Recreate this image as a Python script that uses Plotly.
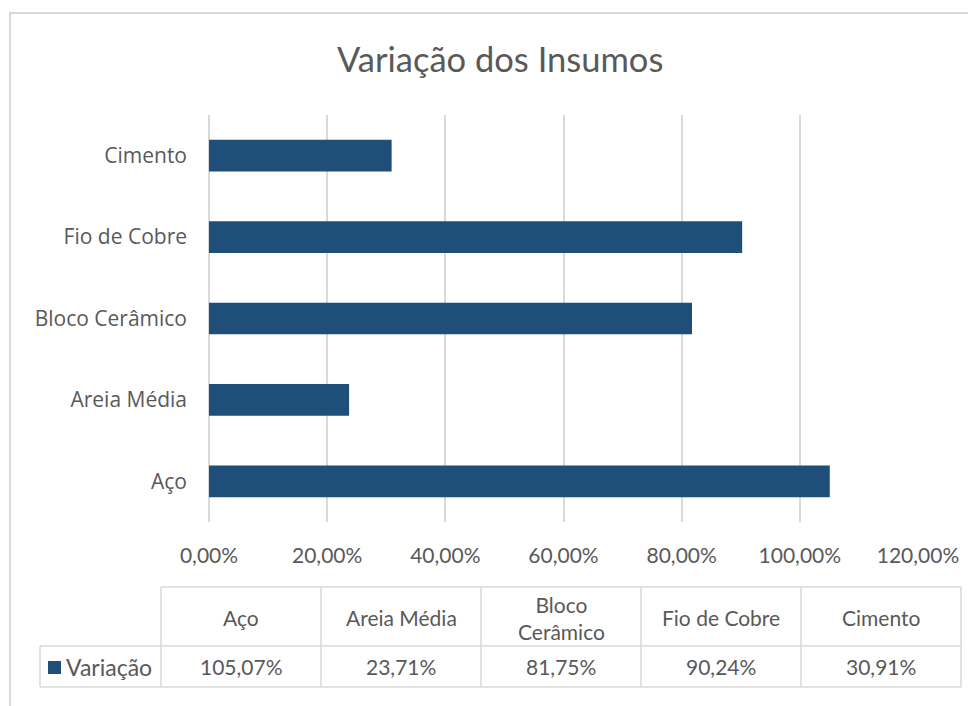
import plotly.graph_objects as go

# ---- data ----
categories = ["Aço", "Areia Média", "Bloco Cerâmico", "Fio de Cobre", "Cimento"]
variacao = [105.07, 23.71, 81.75, 90.24, 30.91]
tick_vals = [0, 20, 40, 60, 80, 100, 120]
tick_labels = ["0,00%", "20,00%", "40,00%", "60,00%", "80,00%", "100,00%", "120,00%"]
series_name = "Variação"
chart_title = "Variação dos Insumos"

# ---- styling ----
OFF = 8            # page body margin in the browser
W, H = 976 - OFF, 706 - OFF
BAR = "#1F4E79"
GRID = "#d9d9d9"
TXT = "#595959"
FONT = "Lato"
YFONT = "Open Sans"


def px(x):
    return (x - OFF) / W


def py(y):
    return 1 - (y - OFF) / H


fig = go.Figure(
    go.Bar(
        y=categories,
        x=variacao,
        orientation="h",
        marker=dict(color=BAR, line=dict(width=0)),
        width=0.39,
        name=series_name,
        showlegend=False,
    )
)

shapes = []
annotations = []

# outer chart border (left & top visible)
shapes.append(dict(type="line", xref="paper", yref="paper", x0=px(10), x1=px(10), y0=py(13), y1=py(706),
                   line=dict(color=GRID, width=2)))
shapes.append(dict(type="line", xref="paper", yref="paper", x0=px(9), x1=px(976), y0=py(13), y1=py(13),
                   line=dict(color=GRID, width=2)))

# data table geometry
col_edges = [161, 321, 481, 641, 801, 961]
y_top, y_mid, y_bot = 587, 646, 687
x_leg = 40
lw = 1.5
shapes.append(dict(type="line", xref="paper", yref="paper", x0=px(col_edges[0]), x1=px(col_edges[-1]),
                   y0=py(y_top), y1=py(y_top), line=dict(color=GRID, width=lw)))
shapes.append(dict(type="line", xref="paper", yref="paper", x0=px(x_leg), x1=px(col_edges[-1]),
                   y0=py(y_mid), y1=py(y_mid), line=dict(color=GRID, width=lw)))
shapes.append(dict(type="line", xref="paper", yref="paper", x0=px(x_leg), x1=px(col_edges[-1]),
                   y0=py(y_bot), y1=py(y_bot), line=dict(color=GRID, width=lw)))
for xe in col_edges:
    shapes.append(dict(type="line", xref="paper", yref="paper", x0=px(xe), x1=px(xe),
                       y0=py(y_top), y1=py(y_bot), line=dict(color=GRID, width=lw)))
shapes.append(dict(type="line", xref="paper", yref="paper", x0=px(x_leg), x1=px(x_leg),
                   y0=py(y_mid), y1=py(y_bot), line=dict(color=GRID, width=lw)))

# legend key
shapes.append(dict(type="rect", xref="paper", yref="paper", x0=px(48), x1=px(61), y0=py(674), y1=py(661),
                   fillcolor=BAR, line=dict(width=0)))
annotations.append(dict(text=series_name, xref="paper", yref="paper", x=px(64), y=py(667),
                        xanchor="left", yanchor="middle", showarrow=False,
                        font=dict(family=FONT, size=23, color=TXT)))

# table header and values
for i, (c, v) in enumerate(zip(categories, variacao)):
    cx = (col_edges[i] + col_edges[i + 1]) / 2
    head = c.replace(" ", "<br>", 1) if len(c) > 12 else c
    annotations.append(dict(text=head, xref="paper", yref="paper", x=px(cx), y=py((y_top + y_mid) / 2 + 1),
                            xanchor="center", yanchor="middle", showarrow=False,
                            font=dict(family=FONT, size=21, color=TXT)))
    val = f"{v:.2f}%".replace(".", ",")
    annotations.append(dict(text=val, xref="paper", yref="paper", x=px(cx), y=py((y_mid + y_bot) / 2),
                            xanchor="center", yanchor="middle", showarrow=False,
                            font=dict(family=FONT, size=21, color=TXT)))

# title
annotations.append(dict(text=chart_title, xref="paper", yref="paper", x=px(500), y=py(59),
                        xanchor="center", yanchor="middle", showarrow=False,
                        font=dict(family=FONT, size=34.5, color=TXT)))

fig.update_layout(
    width=W,
    height=H,
    margin=dict(l=0, r=0, t=0, b=0, autoexpand=False),
    paper_bgcolor="white",
    plot_bgcolor="white",
    font=dict(family=FONT, color=TXT, size=18),
    shapes=shapes,
    annotations=annotations,
    xaxis=dict(
        domain=[px(209), px(918)],
        range=[0, 120],
        tickvals=tick_vals,
        ticktext=tick_labels,
        showgrid=True,
        gridcolor=GRID,
        gridwidth=2,
        zeroline=True,
        zerolinecolor=GRID,
        zerolinewidth=2,
        showline=False,
        ticks="",
        ticklabelstandoff=19,
        tickfont=dict(family=FONT, size=21, color=TXT),
        fixedrange=True,
    ),
    yaxis=dict(
        domain=[py(522), py(115)],
        range=[-0.5, 4.5],
        categoryorder="array",
        categoryarray=categories,
        showgrid=False,
        zeroline=False,
        showline=False,
        ticks="",
        ticklabelstandoff=21,
        tickfont=dict(family=YFONT, size=21, color=TXT),
        fixedrange=True,
    ),
)

fig.write_html("out.html")
